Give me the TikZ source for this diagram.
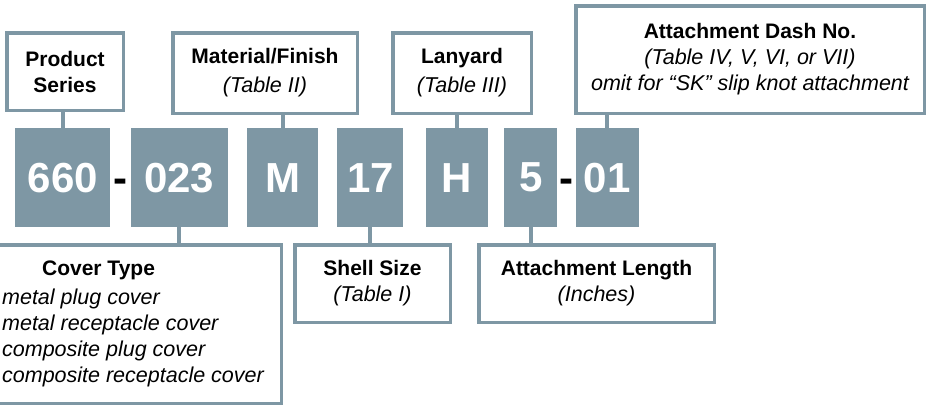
\documentclass[tikz,border=0pt]{standalone}
\usepackage{fontspec}
\setmainfont{Liberation Sans}
\usetikzlibrary{positioning,calc}
\definecolor{slate}{RGB}{126,151,164}
\newcommand{\subtxt}[1]{{\fontsize{21.5}{26}\selectfont\itshape #1}}

\begin{document}
\begin{tikzpicture}[
  x=1pt, y=-1pt,
  font=\fontsize{21}{26}\selectfont,
  code/.style={fill=slate, text=white, inner sep=0pt, minimum height=99pt, font=\fontsize{42}{50}\selectfont\bfseries},
  sep/.style={inner sep=0pt, font=\fontsize{42}{50}\selectfont\bfseries},
  lbl/.style={draw=slate, line width=3.5pt, fill=white, align=center, inner sep=0pt},
  link/.style={draw=slate, line width=4pt}
]
\useasboundingbox (0,0) rectangle (927,407);

% part number blocks
\node[code, minimum width=95pt, anchor=north west] (c660) at (15,128) {660};
\node[code, minimum width=97pt, right=20pt of c660] (c023) {023};
\node[code, minimum width=71pt, right=19pt of c023] (cM) {M};
\node[code, minimum width=66pt, right=19pt of cM] (c17) {17};
\node[code, minimum width=62pt, right=22pt of c17] (cH) {H};
\node[code, minimum width=53pt, right=16pt of cH] (c5) {5};
\node[code, minimum width=63pt, right=18pt of c5] (c01) {01};

% dashes between blocks
\node[sep, anchor=base] (dash1) at ($(c660.base east)!0.5!(c023.base west)$) {-};
\node[sep, anchor=base] (dash2) at ($(c5.base east)!0.5!(c01.base west)$) {-};

% labels above
\node[lbl, minimum width=116.5pt, minimum height=77.5pt] (series) at (65,71.5)
  {\textbf{Product}\\\textbf{Series}};
\node[lbl, minimum width=184.5pt, minimum height=80.5pt] (finish) at (265,73)
  {\textbf{Material/Finish}\\[3pt]\subtxt{(Table II)}};
\node[lbl, minimum width=138.5pt, minimum height=80.5pt] (lanyard) at (462,73)
  {\textbf{Lanyard}\\[3pt]\subtxt{(Table III)}};
\node[lbl, minimum width=348.5pt, minimum height=107.5pt] (dashno) at (750,59.5)
  {\textbf{Attachment Dash No.}\\\subtxt{(Table IV, V, VI, or VII)}\\\subtxt{omit for “SK” slip knot attachment}};

% labels below
\node[lbl, align=left, minimum width=296.5pt, minimum height=158.5pt] (cover) at (133,324)
  {\hspace*{40pt}\textbf{Cover Type}\\[3pt]\subtxt{metal plug cover}\\\subtxt{metal receptacle cover}\\\subtxt{composite plug cover}\\\subtxt{composite receptacle cover}};
\node[lbl, minimum width=155.5pt, minimum height=77.5pt] (shell) at (372.5,283.5)
  {\textbf{Shell Size}\\\subtxt{(Table I)}};
\node[lbl, minimum width=235.5pt, minimum height=77.5pt] (length) at (596.5,283.5)
  {\textbf{Attachment Length}\\\subtxt{(Inches)}};

% links
\draw[link] (c660.north) -- (c660.north |- series.south);
\draw[link] (cM.north) -- (cM.north |- finish.south);
\draw[link] (cH.north) -- (cH.north |- lanyard.south);
\draw[link] (c01.north) -- (c01.north |- dashno.south);
\draw[link] (c023.south) -- (c023.south |- cover.north);
\draw[link] (c17.south) -- (c17.south |- shell.north);
\draw[link] (c5.south) -- (c5.south |- length.north);

\end{tikzpicture}
\end{document}
